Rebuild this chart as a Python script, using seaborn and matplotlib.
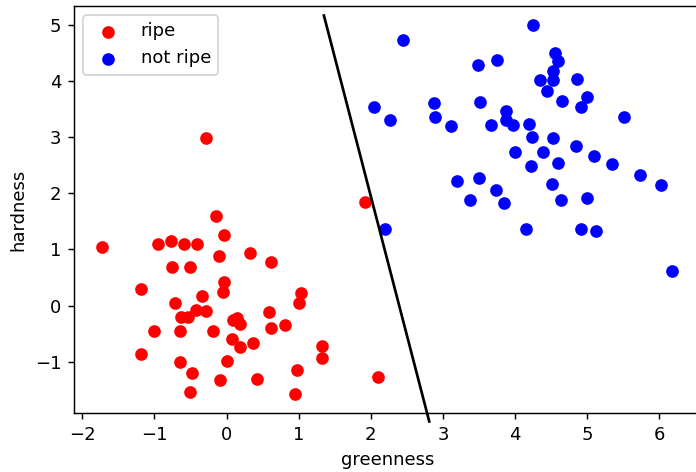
import matplotlib
matplotlib.use("Agg")
import matplotlib.pyplot as plt
import seaborn as sns
import pandas as pd

ripe_greenness = [-1.72, -0.95, -0.77, -0.59, -0.41, -0.14, -0.03, -0.10, 0.32, -0.75,
                  -0.51, -1.19, -0.04, -0.05, -0.34, -0.71, -0.42, -0.28, -0.63, -0.53,
                  -1.01, -0.64, -0.19, 0.09, 0.15, 0.19, 0.07, 0.18, -1.19, -0.65,
                  -0.48, 0.00, -0.09, -0.51, 1.92, 0.61, 1.03, 1.01, 0.59, 0.61,
                  0.81, 0.36, 1.32, 1.32, 0.97, 0.42, 2.10, 0.95, -0.29]
ripe_hardness = [1.04, 1.09, 1.15, 1.09, 1.10, 1.60, 1.25, 0.88, 0.93, 0.68,
                 0.68, 0.29, 0.42, 0.24, 0.18, 0.05, -0.08, -0.09, -0.20, -0.20,
                 -0.46, -0.46, -0.46, -0.26, -0.22, -0.32, -0.59, -0.74, -0.86, -1.00,
                 -1.19, -0.98, -1.33, -1.53, 1.85, 0.78, 0.23, 0.05, -0.11, -0.39,
                 -0.35, -0.66, -0.71, -0.94, -1.14, -1.31, -1.27, -1.58, 2.98]

notripe_greenness = [2.45, 4.25, 3.49, 3.75, 4.34, 2.05, 2.26, 2.87, 2.89, 3.11,
                     3.51, 3.67, 3.87, 3.88, 3.97, 4.19, 4.23, 4.00, 4.22, 3.20,
                     3.50, 3.73, 3.37, 3.84, 4.15, 2.19, 4.55, 4.60, 4.52, 4.53,
                     4.86, 4.44, 4.65, 5.00, 4.91, 5.51, 4.53, 4.85, 4.39, 5.10,
                     4.60, 5.34, 5.73, 6.03, 4.51, 4.64, 5.00, 4.91, 5.12, 6.18]
notripe_hardness = [4.73, 5.00, 4.28, 4.37, 4.01, 3.53, 3.31, 3.61, 3.36, 3.19,
                    3.62, 3.22, 3.46, 3.30, 3.22, 3.23, 3.00, 2.73, 2.49, 2.21,
                    2.27, 2.05, 1.88, 1.83, 1.36, 1.36, 4.50, 4.35, 4.17, 4.01,
                    4.03, 3.81, 3.64, 3.71, 3.54, 3.35, 2.98, 2.84, 2.73, 2.67,
                    2.54, 2.52, 2.33, 2.14, 2.17, 1.88, 1.92, 1.37, 1.33, 0.62]

boundary_greenness = [1.35, 2.81]
boundary_hardness = [5.16, -2.06]

labels = ["ripe", "not ripe"]
colors = ["red", "blue"]

ripe = pd.DataFrame({"greenness": ripe_greenness, "hardness": ripe_hardness})
notripe = pd.DataFrame({"greenness": notripe_greenness, "hardness": notripe_hardness})

DPI = 130
fig = plt.figure(figsize=(696 / DPI, 472 / DPI), dpi=DPI)
ax = fig.add_axes([74 / 696, 59 / 472, 626.8 / 696, 407 / 472])

for df, lab, col in zip([ripe, notripe], labels, colors):
    sns.scatterplot(data=df, x="greenness", y="hardness", color=col, label=lab,
                    s=36, linewidth=1.0, edgecolor="face", ax=ax, legend=False)

ax.plot(boundary_greenness, boundary_hardness, color="black", linewidth=1.5,
        clip_on=False, scalex=False, scaley=False)

ax.set_xlim(-2.115, 6.575)
ax.set_ylim(-1.91, 5.33)
ax.set_xticks([-2, -1, 0, 1, 2, 3, 4, 5, 6])
ax.set_yticks([-1, 0, 1, 2, 3, 4, 5])
ax.set_xlabel("greenness")
ax.set_ylabel("hardness")
ax.legend(loc="upper left")

fig.savefig("out.png", dpi=DPI)
